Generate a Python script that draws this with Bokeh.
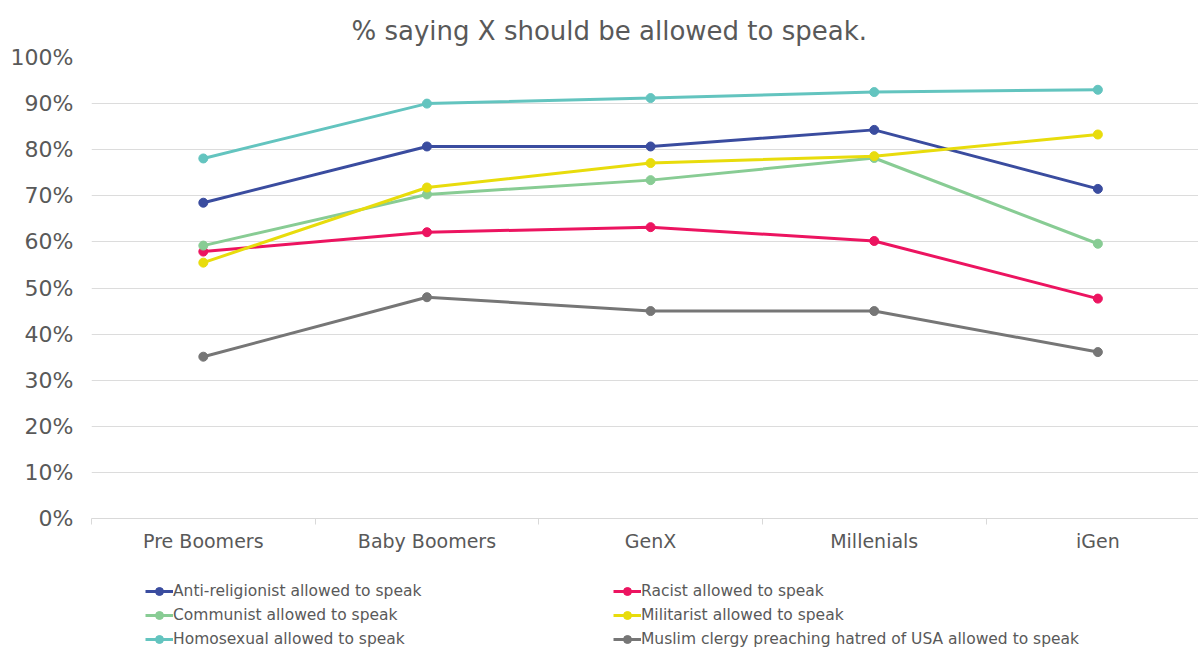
from bokeh.plotting import figure
from bokeh.layouts import column
from bokeh.models import Range1d, FixedTicker, Legend, LegendItem, Title
from bokeh.embed import file_html
from bokeh.resources import INLINE

generations = ["Pre Boomers", "Baby Boomers", "GenX", "Millenials", "iGen"]

anti_religionist = [68.5, 80.7, 80.7, 84.3, 71.5]
racist = [57.9, 62.1, 63.2, 60.2, 47.7]
communist = [59.2, 70.3, 73.4, 78.2, 59.6]
militarist = [55.5, 71.8, 77.1, 78.6, 83.3]
homosexual = [78.1, 90.0, 91.2, 92.5, 93.0]
muslim_clergy = [35.1, 48.0, 45.0, 45.0, 36.1]

y_ticks = [0, 10, 20, 30, 40, 50, 60, 70, 80, 90, 100]

series = [
    ("Anti-religionist allowed to speak", anti_religionist, "#3a4c9f"),
    ("Racist allowed to speak", racist, "#ec1460"),
    ("Communist allowed to speak", communist, "#88cc94"),
    ("Militarist allowed to speak", militarist, "#e8dc0c"),
    ("Homosexual allowed to speak", homosexual, "#63c4bf"),
    ("Muslim clergy preaching hatred of USA allowed to speak", muslim_clergy, "#767676"),
]

FONT = "DejaVu Sans"
TXT = "#595959"

xs = list(range(len(generations)))

p = figure(width=1198, height=560, output_backend="svg", toolbar_location=None,
           x_range=Range1d(-0.5, 4.45), y_range=Range1d(0, 100),
           min_border_left=91, min_border_right=0, min_border_top=57,
           min_border_bottom=42)
p.outline_line_color = None
p.background_fill_color = "white"
p.border_fill_color = "white"

p.add_layout(Title(text="% saying X should be allowed to speak.", align="left",
                   vertical_align="top", offset=260, text_font=FONT,
                   text_font_size="26px", text_font_style="normal",
                   text_color=TXT, standoff=19), "above")

for name, vals, color in series:
    p.line(xs, vals, line_color=color, line_width=3)
    p.scatter(xs, vals, size=9, fill_color=color, line_color=color)

# axes
p.xaxis.ticker = FixedTicker(ticks=xs, minor_ticks=[-0.5, 0.5, 1.5, 2.5, 3.5])
p.xaxis.major_label_overrides = {i: g for i, g in enumerate(generations)}
p.xaxis.axis_line_color = "#d9d9d9"
p.xaxis.major_tick_line_color = None
p.xaxis.minor_tick_line_color = "#d9d9d9"
p.xaxis.minor_tick_out = 6
p.xaxis.minor_tick_in = 0
p.xaxis.major_tick_out = 0
p.xaxis.major_label_standoff = 5
p.xaxis.major_label_text_font = FONT
p.xaxis.major_label_text_font_size = "19px"
p.xaxis.major_label_text_color = TXT

p.yaxis.ticker = FixedTicker(ticks=y_ticks, minor_ticks=[])
p.yaxis.major_label_overrides = {t: f"{t}%" for t in y_ticks}
p.yaxis.axis_line_color = None
p.yaxis.major_tick_line_color = None
p.yaxis.major_tick_out = 0
p.yaxis.major_label_standoff = 18
p.yaxis.major_label_text_font = FONT
p.yaxis.major_label_text_font_size = "22px"
p.yaxis.major_label_text_color = TXT

p.xgrid.grid_line_color = None
p.ygrid.grid_line_color = "#dcdcdc"
p.ygrid.ticker = FixedTicker(ticks=y_ticks)

# legend panel (separate figure below the chart); its renderers hold no visible points
lf = figure(width=1198, height=89, output_backend="svg", toolbar_location=None,
            x_axis_type=None, y_axis_type=None, min_border=0,
            x_range=Range1d(0, 1), y_range=Range1d(0, 1))
lf.outline_line_color = None
lf.xgrid.grid_line_color = None
lf.ygrid.grid_line_color = None

nan = float("nan")
items = {}
for name, vals, color in series:
    l = lf.line(x=[nan], y=[nan], line_color=color, line_width=3)
    s = lf.scatter(x=[nan], y=[nan], size=9, fill_color=color, line_color=color)
    items[name] = LegendItem(label=name, renderers=[l, s])

def make_legend(names, loc):
    lg = Legend(items=[items[n] for n in names], location=loc,
                orientation="vertical", padding=0, margin=0, spacing=4,
                glyph_width=28, glyph_height=20, label_height=20,
                label_standoff=0, label_text_font=FONT,
                label_text_font_size="15.5px", label_text_color=TXT,
                border_line_color=None, background_fill_alpha=0)
    lf.add_layout(lg, "center")

make_legend(["Anti-religionist allowed to speak", "Communist allowed to speak",
             "Homosexual allowed to speak"], (54, 0))
make_legend(["Racist allowed to speak", "Militarist allowed to speak",
             "Muslim clergy preaching hatred of USA allowed to speak"], (522, 0))

open("out.html", "w").write(file_html(column(p, lf, spacing=0), INLINE))
